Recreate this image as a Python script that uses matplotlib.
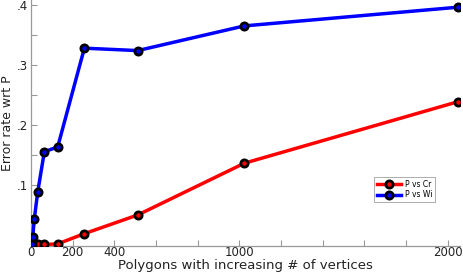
import matplotlib
matplotlib.use('Agg')
import matplotlib.pyplot as plt

# polygon sizes (# of vertices) and error rates
vertices = [4, 8, 16, 32, 64, 128, 256, 512, 1024, 2048]
p_vs_cr = [0.002, 0.002, 0.002, 0.002, 0.002, 0.003, 0.020, 0.051, 0.137, 0.239]
p_vs_wi = [0.003, 0.014, 0.045, 0.089, 0.156, 0.164, 0.328, 0.324, 0.365, 0.396]

x_ticks = [0, 200, 400, 600, 800, 1000, 1200, 1400, 1600, 1800, 2000]
x_labels = ['0', '200', '400', '', '', '1000', '', '', '', '', '2000']
y_ticks = [0, 0.05, 0.1, 0.15, 0.2, 0.25, 0.3, 0.35, 0.4]
y_labels = ['', '', '.1', '', '.2', '', '.3', '', '.4']

fig = plt.figure(figsize=(4.63, 2.73), dpi=100)
ax = fig.add_axes([0.067, 0.1, 0.927, 0.9])

marker_style = dict(marker='o', markersize=5.2, markeredgecolor='black',
                    markeredgewidth=2.0, linewidth=2.5)
ax.plot(vertices, p_vs_cr, color='#ff0000', markerfacecolor='#ff0000',
        label='P vs Cr', zorder=3, **marker_style)
ax.plot(vertices, p_vs_wi, color='#0000ff', markerfacecolor='#0000ff',
        label='P vs Wi', zorder=3, **marker_style)

ax.set_xlim(0, 2060)
ax.set_ylim(0, 0.408)
ax.set_xticks(x_ticks)
ax.set_xticklabels(x_labels)
ax.set_yticks(y_ticks)
ax.set_yticklabels(y_labels)

ax.tick_params(axis='both', direction='in', colors='#999999', labelcolor='#222222',
               labelsize=8.5, length=4, width=0.8)
ax.tick_params(axis='x', pad=0.5)
ax.tick_params(axis='y', pad=2)

for side in ['top', 'right']:
    ax.spines[side].set_visible(False)
for side in ['left', 'bottom']:
    ax.spines[side].set_color('#999999')
    ax.spines[side].set_linewidth(0.9)

ax.set_xlabel('Polygons with increasing # of vertices', fontsize=9.5, color='#222222',
              labelpad=-0.5)
ax.set_ylabel('Error rate wrt P', fontsize=9, color='#222222', labelpad=2)

leg = ax.legend(loc='upper left', bbox_to_anchor=(0.80, 0.28), fontsize=5.5,
                frameon=True, fancybox=False, handlelength=3.2, borderpad=0.35,
                labelspacing=0.25, handletextpad=0.4, borderaxespad=0)
leg.get_frame().set_edgecolor('#888888')
leg.get_frame().set_linewidth(0.6)

fig.savefig('out.png', dpi=100)
